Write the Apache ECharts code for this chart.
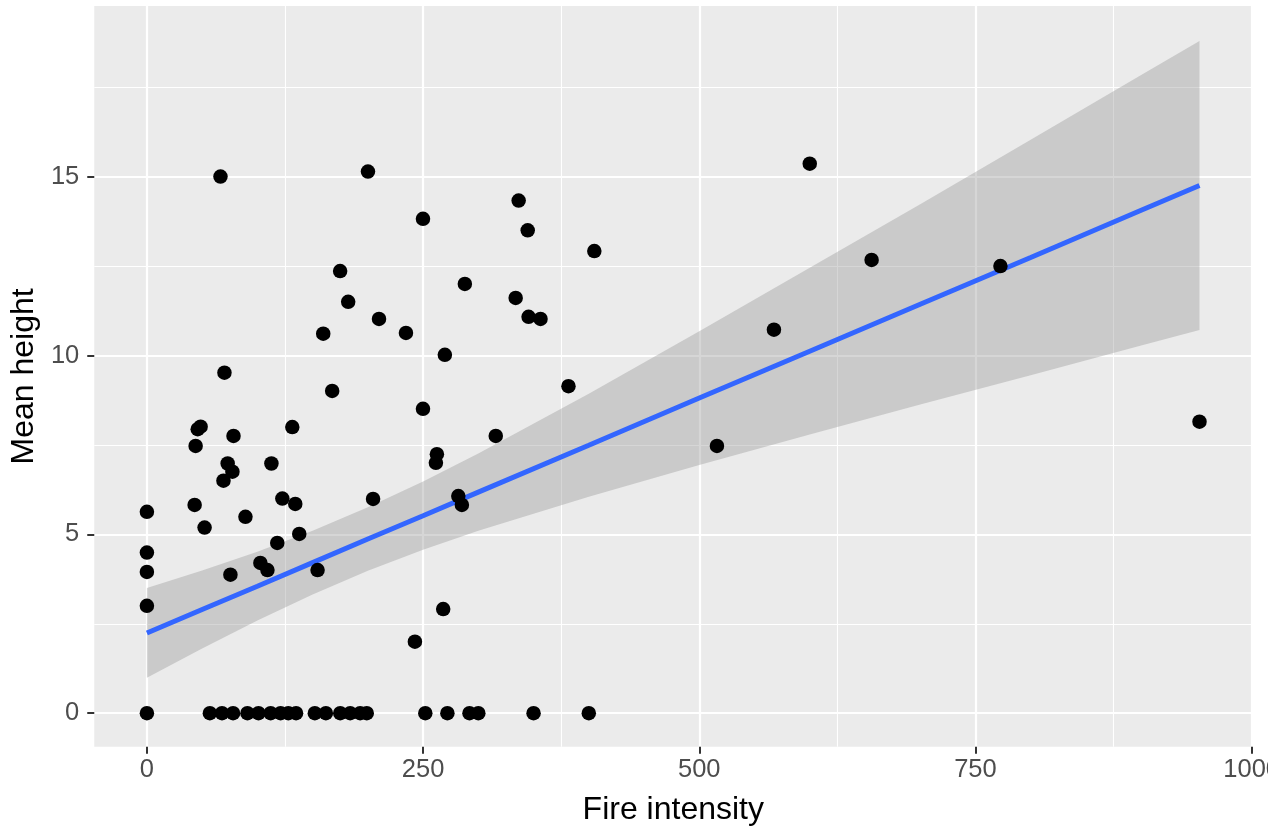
<!DOCTYPE html>
<html>
<head>
<meta charset="utf-8">
<script src="https://cdn.jsdelivr.net/npm/echarts@6/dist/echarts.min.js"></script>
<style>html,body{margin:0;padding:0;background:#fff}#chart{width:1283px;height:832px}</style>
</head>
<body>
<div id="chart"></div>
<script>
// Points lying on Mean height = 0
const zeroX = [0, 57, 68, 78, 91, 101, 112, 121, 128, 135, 152, 162, 175, 184, 193, 199, 252, 272, 292, 300, 350, 400];
// Other points (Fire intensity, Mean height)
const pointsX = [0, 0, 0, 0, 66.6, 200.1, 600, 336.5, 249.9, 344.7, 405, 174.9, 656, 772.6, 287.8, 182.2, 333.8, 345.5, 356.3, 210.1,
  234.5, 159.6, 567.6, 269.7, 70.2, 381.6, 167.7, 249.9, 952.8, 46.0, 48.6, 44.1, 78.4, 131.6, 315.8, 516, 73.1, 112.7, 262.5, 261.6,
  77.4, 69.3, 122.6, 134.3, 204.7, 281.9, 285.1, 43.2, 89.2, 52.2, 137.9, 118, 102.7, 109.1, 154.5, 75.6, 268.2, 242.6];
const pointsY = [5.63, 4.49, 3.95, 3.00, 15.0, 15.14, 15.36, 14.33, 13.82, 13.5, 12.92, 12.36, 12.67, 12.5, 12.0, 11.5, 11.61, 11.08, 11.02, 11.02,
  10.63, 10.61, 10.72, 10.02, 9.52, 9.14, 9.01, 8.51, 8.15, 7.94, 8.01, 7.47, 7.75, 8.0, 7.75, 7.47, 6.98, 6.98, 7.24, 7.0,
  6.75, 6.5, 6.0, 5.85, 5.99, 6.07, 5.82, 5.82, 5.49, 5.19, 5.01, 4.76, 4.2, 4.0, 4.0, 3.87, 2.91, 2.0];
// Linear fit and its confidence band
const fitX = [0, 50, 100, 150, 200, 250, 300, 400, 500, 600, 700, 800, 900, 952.8];
const fitY = [2.24, 2.90, 3.55, 4.21, 4.87, 5.52, 6.18, 7.49, 8.81, 10.12, 11.43, 12.74, 14.06, 14.75];
const bandUpper = [3.50, 3.99, 4.51, 5.10, 5.76, 6.48, 7.26, 8.93, 10.68, 12.45, 14.23, 16.03, 17.84, 18.79];
const bandLower = [0.99, 1.81, 2.59, 3.32, 3.98, 4.57, 5.10, 6.05, 6.94, 7.79, 8.63, 9.45, 10.28, 10.71];
// Tick labels / grid
const xMajorTicks = [0, 250, 500, 750, 1000];
const xMinorTicks = [125, 375, 625, 875];
const yMajorTicks = [0, 5, 10, 15];
const yMinorTicks = [2.5, 7.5, 12.5, 17.5];

const FONT = "'Liberation Sans', Arial, Helvetica, sans-serif";
const X_MIN = -47.65, X_MAX = 1000.65, Y_MIN = -0.94, Y_MAX = 19.77;

const scatterData = zeroX.map(x => [x, 0]).concat(pointsX.map((x, i) => [x, pointsY[i]]));
const fitData = fitX.map((x, i) => [x, fitY[i]]);

const chart = echarts.init(document.getElementById('chart'), null, {renderer: 'canvas'});

const tickStyle = {show: true, length: 7, inside: false, lineStyle: {color: '#333333', width: 2}};
const labelStyle = {color: '#4D4D4D', fontSize: 25.5, fontFamily: FONT, formatter: v => String(v)};

chart.setOption({
  animation: false,
  backgroundColor: '#ffffff',
  grid: {left: 93.4, top: 6, width: 1161.3, height: 740.8, show: true, backgroundColor: '#EBEBEB', borderWidth: 0, containLabel: false},
  xAxis: [
    {
      type: 'value', min: X_MIN, max: X_MAX, position: 'bottom',
      axisLine: {show: false, onZero: false},
      axisTick: Object.assign({customValues: xMajorTicks}, tickStyle),
      axisLabel: Object.assign({customValues: xMajorTicks, margin: 10}, labelStyle),
      splitLine: {show: true, lineStyle: {color: '#ffffff', width: 2.2}},
      name: 'Fire intensity', nameLocation: 'middle', nameGap: 47,
      nameTextStyle: {color: '#000000', fontSize: 32, fontFamily: FONT}
    },
    {
      type: 'value', min: X_MIN, max: X_MAX, position: 'bottom',
      axisLine: {show: false, onZero: false},
      axisTick: {show: false, customValues: xMinorTicks},
      axisLabel: {show: false, customValues: xMinorTicks},
      splitLine: {show: true, lineStyle: {color: '#ffffff', width: 1.1}}
    }
  ],
  yAxis: [
    {
      type: 'value', min: Y_MIN, max: Y_MAX, position: 'left',
      axisLine: {show: false, onZero: false},
      axisTick: Object.assign({customValues: yMajorTicks}, tickStyle),
      axisLabel: Object.assign({customValues: yMajorTicks, margin: 15}, labelStyle),
      splitLine: {show: true, lineStyle: {color: '#ffffff', width: 2.2}},
      name: 'Mean height', nameLocation: 'middle', nameGap: 54,
      nameTextStyle: {color: '#000000', fontSize: 32, fontFamily: FONT}
    },
    {
      type: 'value', min: Y_MIN, max: Y_MAX, position: 'left',
      axisLine: {show: false, onZero: false},
      axisTick: {show: false, customValues: yMinorTicks},
      axisLabel: {show: false, customValues: yMinorTicks},
      splitLine: {show: true, lineStyle: {color: '#ffffff', width: 1.1}}
    }
  ],
  series: [
    {
      type: 'custom', name: 'band', xAxisIndex: 0, yAxisIndex: 0, z: 2, silent: true,
      data: [[fitX[0], bandLower[0]]],
      renderItem: function (params, api) {
        const pts = [];
        for (let i = 0; i < fitX.length; i++) pts.push(api.coord([fitX[i], bandUpper[i]]));
        for (let i = fitX.length - 1; i >= 0; i--) pts.push(api.coord([fitX[i], bandLower[i]]));
        return {type: 'polygon', shape: {points: pts}, style: {fill: 'rgba(153,153,153,0.4)', stroke: null}};
      }
    },
    {
      type: 'line', name: 'fit', xAxisIndex: 0, yAxisIndex: 0, z: 3, data: fitData,
      showSymbol: false, symbol: 'none', smooth: false,
      lineStyle: {color: '#3366FF', width: 5}
    },
    {
      type: 'scatter', name: 'points', xAxisIndex: 0, yAxisIndex: 0, z: 4, data: scatterData,
      symbol: 'circle', symbolSize: 14.5, itemStyle: {color: '#000000', opacity: 1}
    }
  ],
  graphic: [
    {type: 'rect', z: 100, silent: true, shape: {x: 1268, y: 756, width: 15, height: 36}, style: {fill: '#ffffff'}}
  ]
});
</script>
</body>
</html>
